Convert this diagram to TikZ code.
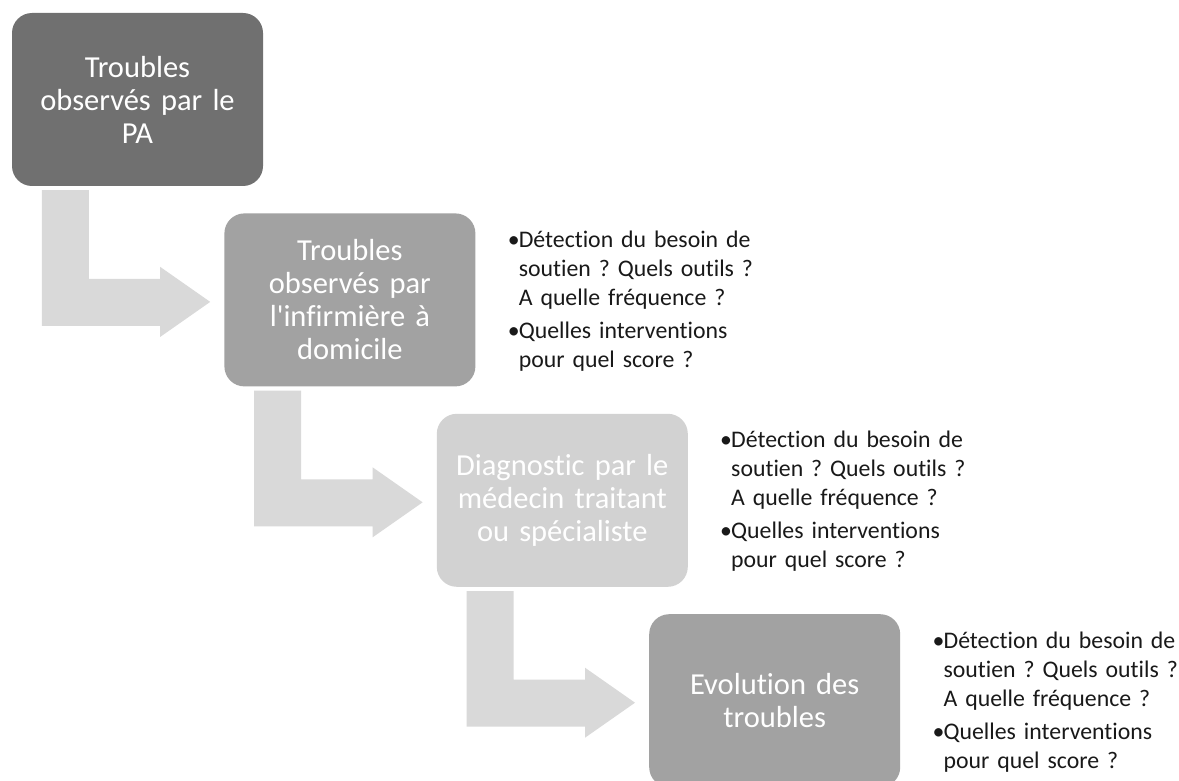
\documentclass[tikz,border=0pt]{standalone}
\usepackage{fontspec}
\setmainfont{Carlito}[Ligatures=NoCommon]
\usetikzlibrary{positioning,calc}

\definecolor{grisfonce}{RGB}{112,112,112}
\definecolor{grismoyen}{RGB}{162,162,162}
\definecolor{grisclair}{RGB}{210,210,210}
\definecolor{grisfleche}{RGB}{217,217,217}
\definecolor{texte}{RGB}{25,25,25}

\tikzset{
  etape/.style={rounded corners=20pt, minimum width=251pt, minimum height=173pt,
    text width=240pt, align=center, inner sep=0pt, text=white,
    font=\fontsize{30.5}{33}\selectfont\frenchspacing},
  notes/.style={text width=290pt, align=left, inner sep=0pt, text=texte,
    font=\fontsize{23.8}{29}\selectfont\frenchspacing},
  fleche/.style={fill=grisfleche}
}

\newcommand{\puce}[1]{\par\hangindent=11pt\hangafter=1\noindent\makebox[11pt][l]{\textbullet}#1\par}
\newcommand{\questions}{\puce{Détection du besoin de\newline soutien ? Quels outils ?\newline A quelle fréquence ?}\vspace{4pt}\puce{Quelles interventions\newline pour quel score ?}}
\newcommand{\flechecoudee}[2]{%
  \coordinate (a) at ($(#1.south west)+(30,4)$);
  \coordinate (t) at ($(#2.west)+(-14,2)$);
  \fill[fleche] (a) -- ++(47,0) |- ($(t)+(-50,-23)$) -- ($(t)+(-50,-35)$) -- (t)
    -- ($(t)+(-50,35)$) -- ($(t)+(-50,24)$) -| (a) -- cycle;
}

\begin{document}
\begin{tikzpicture}[x=1pt,y=-1pt]
  \fill[white] (0,0) rectangle (1179,781);
  \useasboundingbox (0,0) rectangle (1179,781);
  \clip (0,0) rectangle (1179,781);
  \node(pa) [etape, fill=grisfonce] at (137.5,99.5) {Troubles\\observés par le\\PA};
  \node(infirmiere) [etape, fill=grismoyen, below right=27pt and -39pt of pa] {Troubles\\observés par\\l\textquotesingle infirmière à\\domicile};
  \node(medecin) [etape, fill=grisclair, below right=27pt and -39pt of infirmiere] {Diagnostic par le\\médecin traitant\\ou spécialiste};
  \node(evolution) [etape, fill=grismoyen, below right=27pt and -39pt of medecin] {Evolution des\\troubles};
  \node(notes1) [notes, below right=5pt and 32pt of infirmiere.north east] {\questions};
  \node(notes2) [notes, below right=5pt and 32pt of medecin.north east] {\questions};
  \node(notes3) [notes, below right=5pt and 32pt of evolution.north east] {\questions};
  \flechecoudee{pa}{infirmiere}
  \flechecoudee{infirmiere}{medecin}
  \flechecoudee{medecin}{evolution}
\end{tikzpicture}
\end{document}
